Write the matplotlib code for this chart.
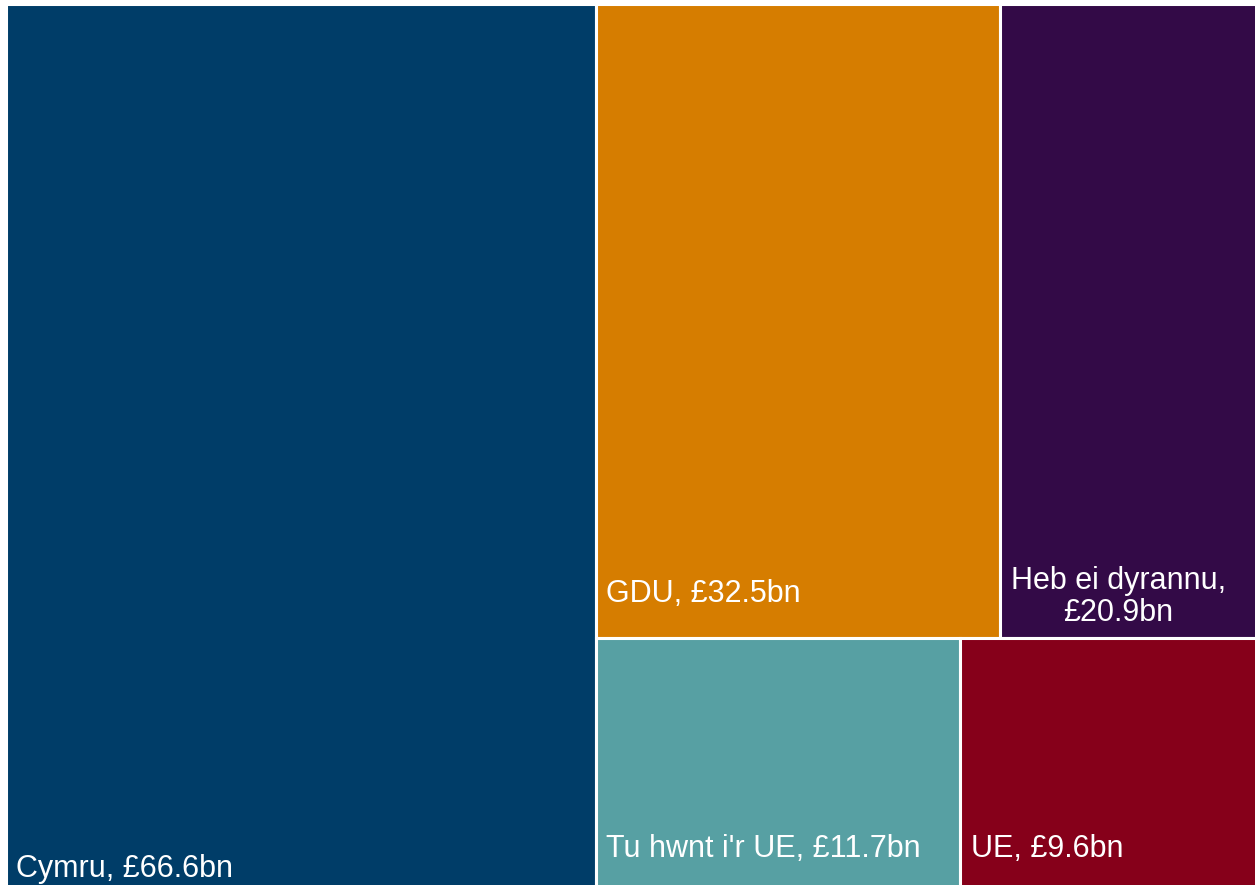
import matplotlib
matplotlib.use("Agg")
import matplotlib.pyplot as plt
from matplotlib.patches import Rectangle

# ---- data ----
categories = ["Cymru", "GDU", "Heb ei dyrannu", "Tu hwnt i'r UE", "UE"]
values = [66.6, 32.5, 20.9, 11.7, 9.6]
labels = ["Cymru, £66.6bn", "GDU, £32.5bn", "Heb ei dyrannu,\n£20.9bn",
          "Tu hwnt i'r UE, £11.7bn", "UE, £9.6bn"]
colors = ["#003D68", "#D67D00", "#330A47", "#57A0A3", "#86001A"]

# layout grouping: first a column, then the rest split into rows
column_group = [0]
row_groups = [[1, 2], [3, 4]]

# ---- style / placement ----
W, H = 1255, 885
area = (5.5, 3.5, 1259.0, 891.0)   # x0, y0, x1, y1 in pixels (y down)
label_pad_x = [10, 10, 11, 10, 11]
label_pad_bottom = [14, 36, 17, 34, 34]
label_align = ["left", "left", "center", "left", "left"]


def layout():
    x0, y0, x1, y1 = area
    total = sum(values)
    rects = {}
    cx = x0
    for i in column_group:
        w = (x1 - x0) * values[i] / total
        rects[i] = (cx, y0, cx + w, y1)
        cx += w
    rest_total = sum(values[i] for g in row_groups for i in g)
    ry = y0
    for g in row_groups:
        gsum = sum(values[i] for i in g)
        h = (y1 - y0) * gsum / rest_total
        rx = cx
        for i in g:
            w = (x1 - cx) * values[i] / gsum
            rects[i] = (rx, ry, rx + w, ry + h)
            rx += w
        ry += h
    return rects


fig = plt.figure(figsize=(W / 100, H / 100), dpi=100)
ax = fig.add_axes([0, 0, 1, 1])
ax.set_xlim(0, W)
ax.set_ylim(H, 0)
ax.axis("off")

rects = layout()
for i in range(len(values)):
    rx0, ry0, rx1, ry1 = rects[i]
    ax.add_patch(Rectangle((rx0, ry0), rx1 - rx0, ry1 - ry0,
                           facecolor=colors[i], edgecolor="white",
                           linewidth=2.2, clip_on=True))
    ax.text(rx0 + label_pad_x[i], ry1 - label_pad_bottom[i], labels[i],
            color="white", fontsize=22, family=["Liberation Sans", "DejaVu Sans"],
            ha="left", va="baseline", multialignment=label_align[i],
            linespacing=1.1)

fig.savefig("out.png", dpi=100)
